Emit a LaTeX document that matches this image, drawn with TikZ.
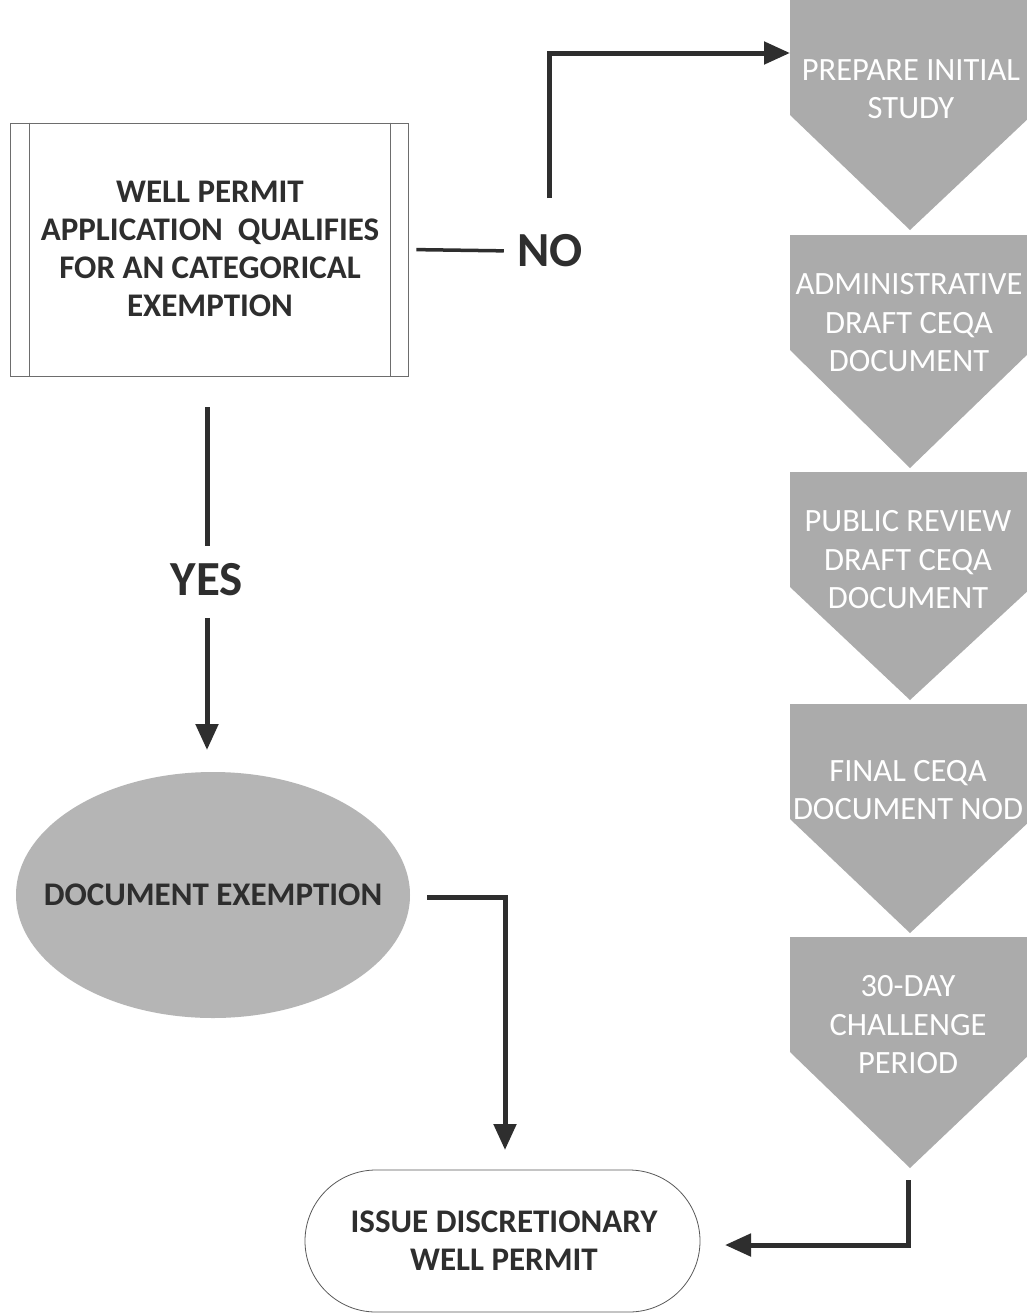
\documentclass[tikz,border=0pt]{standalone}
\usepackage{fontspec}
\setmainfont{Carlito}
\usetikzlibrary{arrows.meta,shapes.geometric,calc}
\definecolor{chev}{HTML}{ABABAB}
\definecolor{ellg}{HTML}{B5B5B5}
\definecolor{ink}{HTML}{2E2E2E}
\tikzset{
  conn/.style={draw=ink, line width=5pt},
  arr/.style={conn, -{Triangle[length=26pt,width=22pt]}},
  boxtxt/.style={align=center, text=ink, font=\fontsize{33}{38}\selectfont\bfseries},
  chevtxt/.style={align=center, text=white, font=\fontsize{32.5}{38.5}\selectfont},
  bigbold/.style={text=ink, font=\fontsize{49}{54}\selectfont\bfseries},
}
\newcommand{\chevron}[2]{% top y, point y
  \fill[chev] (790,#1) -- (1032,#1) -- (1032,#1+115) -- (910,#2) -- (790,#1+115) -- cycle;}
\begin{document}
\begin{tikzpicture}[x=1pt,y=-1pt]
\clip (0,0) rectangle (1027,1315);
\fill[white] (0,0) rectangle (1027,1315);

% chevrons
\chevron{0}{230}
\chevron{235}{468}
\chevron{472}{700}
\chevron{704}{933}
\chevron{937}{1168}
\coordinate (c1w) at (790,53);
\coordinate (c5s) at (908,1180);
\node[chevtxt] (c1) at (911,89) {PREPARE INITIAL\\STUDY};
\node[chevtxt] (c2) at (909,323) {ADMINISTRATIVE\\DRAFT CEQA\\DOCUMENT};
\node[chevtxt] (c3) at (908,560) {PUBLIC REVIEW\\DRAFT CEQA\\DOCUMENT};
\node[chevtxt] (c4) at (908,790) {FINAL CEQA\\DOCUMENT NOD};
\node[chevtxt] (c5) at (908,1025) {30-DAY\\CHALLENGE\\PERIOD};

% decision box
\node[draw=ink!70, line width=0.8pt, minimum width=398pt, minimum height=253pt, inner sep=0pt] (box) at (209,249.5) {};
\draw[ink!70, line width=0.8pt] ([xshift=20pt]box.north west) -- ([xshift=20pt]box.south west);
\draw[ink!70, line width=0.8pt] ([xshift=-18pt]box.north east) -- ([xshift=-18pt]box.south east);
\node[boxtxt] (boxt) at (210,249) {WELL PERMIT\\APPLICATION\ \ QUALIFIES\\FOR AN CATEGORICAL\\EXEMPTION};

% NO branch
\node[bigbold] (no) at (550,251) {NO};
\draw[draw=ink, line width=3.5pt, shorten <=8pt, shorten >=10pt] (box.east) -- (no.west);
\coordinate (nostart) at (549,198);
\draw[arr] (nostart) |- (c1w);

% YES branch
\node[bigbold] (yes) at (207,580) {YES};
\draw[conn, shorten >=14pt] (207,407) -- (yes.north);
\node[draw=none, fill=ellg, ellipse, minimum width=394pt, minimum height=246pt] (ell) at (213,895) {};
\node[text=ink, font=\fontsize{33}{38}\selectfont\bfseries] (ellt) at (213,895) {DOCUMENT EXEMPTION};
\draw[arr, shorten <=18pt] (yes.south) -- (207,750);

% terminal
\node[draw=ink!80, line width=0.8pt, minimum width=395pt, minimum height=142pt, rounded corners=71pt] (issue) at (502.5,1241) {};
\node[boxtxt] (issuet) at (504,1241) {ISSUE DISCRETIONARY\\WELL PERMIT};

\draw[arr] (427,897) -| (505,1150);
\draw[arr] (c5s) |- (725,1245);
\end{tikzpicture}
\end{document}
